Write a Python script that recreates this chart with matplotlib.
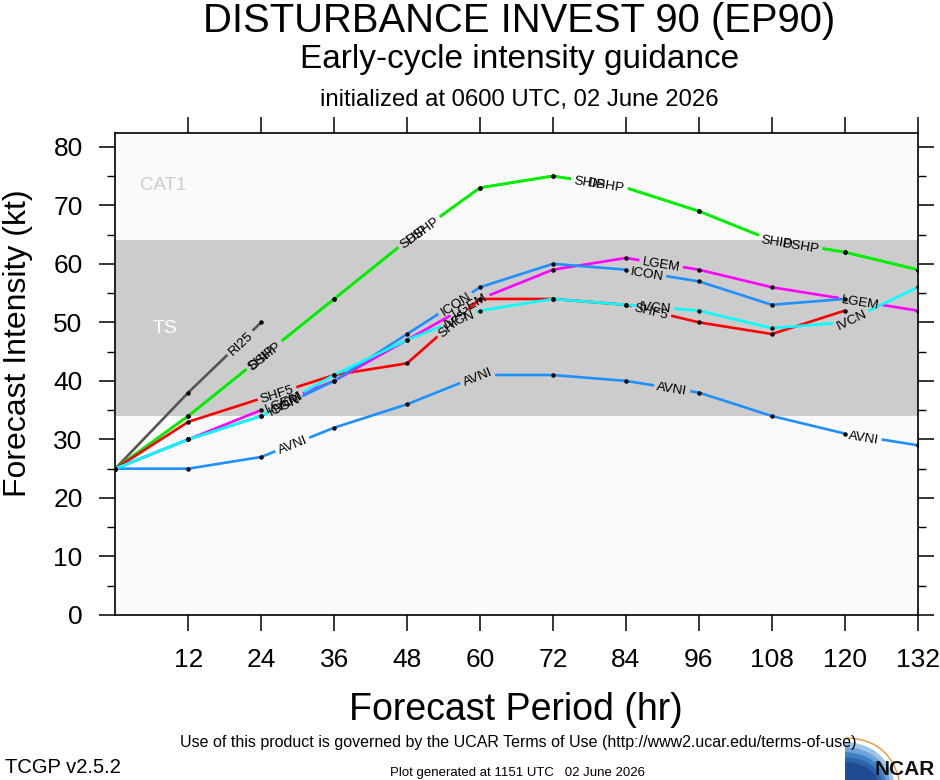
import numpy as np
import matplotlib
matplotlib.use("Agg")
import matplotlib.pyplot as plt
from matplotlib import patches
from matplotlib.lines import Line2D

# ---------------- data ----------------
hours = [0, 12, 24, 36, 48, 60, 72, 84, 96, 108, 120, 132]
ship = [25, 34, 44, 54, 64, 73, 75, 73, 69, 64, 62, 59]
dshp = [25, 34, 44, 54, 64, 73, 75, 73, 69, 64, 62, 59]
lgem = [25, 30, 35, 40, 47, 54, 59, 61, 59, 56, 54, 52]
ivcn = [25, 30, 34, 41, 47, 52, 54, 53, 52, 49, 50, 56]
avni = [25, 25, 27, 32, 36, 41, 41, 40, 38, 34, 31, 29]
hours_120 = [0, 12, 24, 36, 48, 60, 72, 84, 96, 108, 120]
shf5 = [25, 33, 37, 41, 43, 54, 54, 53, 50, 48, 52]
icon = [25, 30, 34, 40, 48, 56, 60, 59, 57, 53, 54]
hours_ri = [0, 12, 24]
ri25 = [25, 38, 50]

xticks = [12, 24, 36, 48, 60, 72, 84, 96, 108, 120, 132]
yticks = [0, 10, 20, 30, 40, 50, 60, 70, 80]
ts_band = (34, 64)

FONT = ["Liberation Sans", "DejaVu Sans"]
plt.rcParams["font.family"] = FONT

W, H = 940, 780
fig = plt.figure(figsize=(W / 100, H / 100), dpi=100)
fig.patch.set_facecolor("white")
L, R, T, B = 115.3, 917.7, 133.3, 615.0
ax = fig.add_axes([L / W, (H - B) / H, (R - L) / W, (B - T) / H])
ax.set_xlim(0, 132)
ax.set_ylim(0, 82.3)
ax.set_facecolor("#fafafa")
ax.axhspan(ts_band[0], ts_band[1], color="#cccccc", lw=0, zorder=0)
ax.text(6.1, 49, "TS", color="white", fontsize=14, va="center", ha="left", zorder=1)
ax.text(4.1, 73.3, "CAT1", color="#cccccc", fontsize=13.5, va="center", ha="left", zorder=1)

# axes styling
for sp in ax.spines.values():
    sp.set_linewidth(1.2)
ax.set_xticks(xticks)
ax.set_yticks(yticks)
ax.set_yticks([5, 15, 25, 35, 45, 55, 65, 75], minor=True)
ax.tick_params(axis="both", which="major", direction="out", length=11.5, width=1.1,
               labelsize=19, pad=12, top=True, right=True)
ax.tick_params(axis="y", which="minor", direction="out", length=5.8, width=1.0,
               left=True, right=True)
ax.tick_params(axis="x", which="minor", bottom=False, top=False)

fig.canvas.draw()
renderer = fig.canvas.get_renderer()
LABEL_FS = 9.7


def text_width(s):
    t = ax.text(0, 0, s, fontsize=LABEL_FS)
    w = t.get_window_extent(renderer).width
    t.remove()
    return w


def geometry(hrs, vals):
    pts = ax.transData.transform(np.column_stack([hrs, vals]).astype(float))
    seg = np.hypot(*np.diff(pts, axis=0).T)
    cum = np.concatenate([[0.0], np.cumsum(seg)])
    return pts, cum


def locate(hrs, vals, h):
    hrs = np.asarray(hrs, float)
    vals = np.asarray(vals, float)
    pts, cum = geometry(hrs, vals)
    i = int(np.clip(np.searchsorted(hrs, h, side="right") - 1, 0, len(hrs) - 2))
    v = float(np.interp(h, hrs, vals))
    p = ax.transData.transform((h, v))
    s = cum[i] + np.hypot(*(p - pts[i]))
    d = pts[i + 1] - pts[i]
    ang = np.degrees(np.arctan2(d[1], d[0]))
    return v, s, ang


def point_at(pts, cum, s):
    i = int(np.clip(np.searchsorted(cum, s, side="right") - 1, 0, len(cum) - 2))
    f = (s - cum[i]) / (cum[i + 1] - cum[i])
    return pts[i] + f * (pts[i + 1] - pts[i])


def draw_series(hrs, vals, color, name, label_hrs, gap_sets, z):
    pts, cum = geometry(hrs, vals)
    gaps = []
    for nm, lhs in gap_sets:
        w = text_width(nm)
        for h in lhs:
            _, s, _ = locate(hrs, vals, h)
            gaps.append((s - w / 2 - 3, s + w / 2 + 3))
    gaps.sort()
    visible = []
    start = 0.0
    for a, b in gaps:
        if a > start:
            visible.append((start, a))
        start = max(start, b)
    if start < cum[-1]:
        visible.append((start, cum[-1]))
    inv = ax.transData.inverted()
    for a, b in visible:
        b = min(b, cum[-1])
        if b <= a:
            continue
        seg_pts = [point_at(pts, cum, a)]
        for k in range(len(cum)):
            if a < cum[k] < b:
                seg_pts.append(pts[k])
        seg_pts.append(point_at(pts, cum, b))
        d = inv.transform(np.array(seg_pts))
        ax.plot(d[:, 0], d[:, 1], color=color, lw=1.9, solid_capstyle="butt", zorder=z)
    for k in range(len(cum)):
        hidden = any(a <= cum[k] <= b for a, b in gaps)
        if not hidden:
            ax.plot(hrs[k], vals[k], "o", color="black", ms=3.2, mec="none", zorder=10)
    for h in label_hrs:
        v, s, ang = locate(hrs, vals, h)
        ax.text(h, v, name, fontsize=LABEL_FS, rotation=ang, rotation_mode="anchor",
                ha="center", va="center_baseline", color="black", zorder=11)


ship_lbl = [24, 49, 78, 108.8]
dshp_lbl = [24.6, 50.5, 80.8, 112.8]
draw_series(hours_ri, ri25, "#555555", "RI25", [20.5], [("RI25", [20.5])], 3)
draw_series(hours, ship, "#00ee00", "SHIP", ship_lbl,
            [("SHIP", ship_lbl), ("DSHP", dshp_lbl)], 3)
draw_series(hours, dshp, "#00ee00", "DSHP", dshp_lbl,
            [("SHIP", ship_lbl), ("DSHP", dshp_lbl)], 3)
draw_series(hours_120, shf5, "#ff0000", "SHF5", [26.6, 55.5, 88.2],
            [("SHF5", [26.6, 55.5, 88.2])], 4)
draw_series(hours, lgem, "#ff00ff", "LGEM", [27.5, 58.3, 89.8, 122.6],
            [("LGEM", [27.5, 58.3, 89.8, 122.6])], 5)
draw_series(hours_120, icon, "#1e90ff", "ICON", [27.8, 55.9, 87.4],
            [("ICON", [27.8, 55.9, 87.4])], 6)
draw_series(hours, ivcn, "#00ffff", "IVCN", [28.3, 56.5, 88.8, 121.1],
            [("IVCN", [28.3, 56.5, 88.8, 121.1])], 7)
draw_series(hours, avni, "#1e90ff", "AVNI", [29.1, 59.5, 91.6, 123.1],
            [("AVNI", [29.1, 59.5, 91.6, 123.1])], 6)

# ---------------- titles / labels ----------------
fig.text(519 / W, (H - 32) / H, "DISTURBANCE INVEST 90 (EP90)", fontsize=28.8,
         ha="center", va="baseline")
fig.text(520 / W, (H - 68) / H, "Early-cycle intensity guidance", fontsize=24,
         ha="center", va="baseline")
fig.text(519 / W, (H - 106) / H, "initialized at 0600 UTC, 02 June 2026", fontsize=17.2,
         ha="center", va="baseline")
fig.text(18 / W, (H - 343) / H, "Forecast Intensity (kt)", fontsize=23, rotation=90,
         ha="center", va="center")
fig.text(516 / W, (H - 720) / H, "Forecast Period (hr)", fontsize=27,
         ha="center", va="baseline")

fig.text(518 / W, (H - 747) / H,
         "Use of this product is governed by the UCAR Terms of Use (http://www2.ucar.edu/terms-of-use)",
         fontsize=11.5, ha="center", va="baseline")
fig.text(5 / W, (H - 773) / H, "TCGP v2.5.2", fontsize=14.5, ha="left", va="baseline")
fig.text(518 / W, (H - 776) / H, "Plot generated at 1151 UTC   02 June 2026", fontsize=9.5,
         ha="center", va="baseline")


# ---------------- NCAR logo ----------------
def fxy(x, y):
    return (x / W, (H - y) / H)


tt = np.linspace(0, 1, 40)


def bez(p0, p1, p2):
    return [((1 - u) ** 2 * p0[0] + 2 * (1 - u) * u * p1[0] + u ** 2 * p2[0],
             (1 - u) ** 2 * p0[1] + 2 * (1 - u) * u * p1[1] + u ** 2 * p2[1]) for u in tt]


shades = ["#9cc3e8", "#6fa3d8", "#3f7fc4", "#2a64ad", "#1d4c92"]
for j, col in enumerate(shades):
    off = j * 5
    arc = bez((845, 742 + off), (884 - off * 0.6, 744 + off), (894 - off * 0.8, 780))
    poly = [fxy(*p) for p in arc] + [fxy(845, 780)]
    fig.patches.append(patches.Polygon(poly, closed=True, transform=fig.transFigure,
                                       facecolor=col, edgecolor="none", figure=fig))
arc_w = bez((843, 740), (886, 741), (896, 780))
xs, ys = zip(*[fxy(*p) for p in arc_w])
fig.lines.append(Line2D(xs, ys, transform=fig.transFigure, color="white", lw=1.6, figure=fig))
arc_o = bez((846, 738), (889, 739), (899, 780))
xs, ys = zip(*[fxy(*p) for p in arc_o])
fig.lines.append(Line2D(xs, ys, transform=fig.transFigure, color="#e8963a", lw=1.0, figure=fig))
fig.text(875 / W, (H - 775) / H, "NCAR", fontsize=15, fontweight="bold",
         ha="left", va="baseline", color="#111111")

fig.savefig("out.png", dpi=100, facecolor="white")
